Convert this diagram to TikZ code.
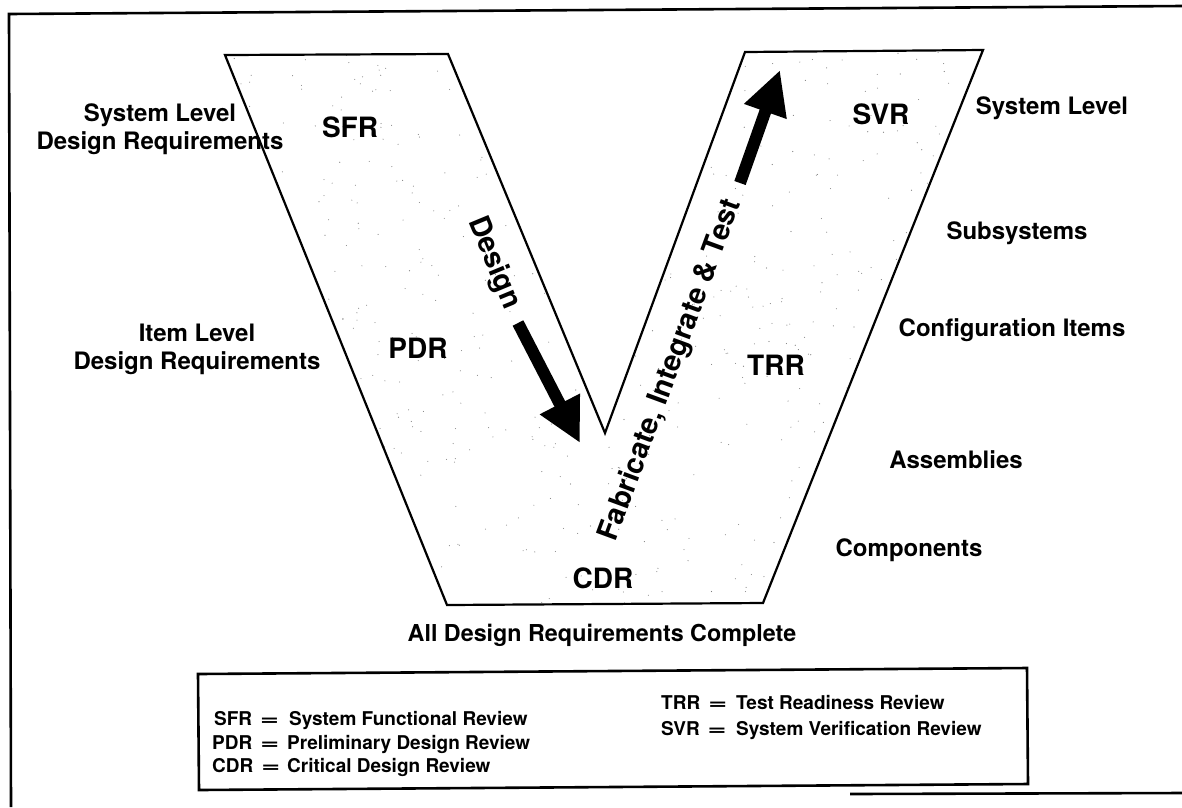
\documentclass[tikz,border=0pt]{standalone}
\usepackage{fontspec}
\setmainfont{TeX Gyre Heros}
\usetikzlibrary{arrows.meta}
\newcommand{\abbr}[1]{\makebox[75pt][l]{#1\hspace{8pt}\scalebox{1.7}[1]{=}}}
\begin{document}
\begin{tikzpicture}[x=1pt,y=-1pt,
  lbl/.style={font=\fontsize{24}{28}\selectfont\bfseries, inner sep=0pt, align=center},
  rev/.style={font=\fontsize{28}{32}\selectfont\bfseries, inner sep=0pt},
  rottext/.style={font=\fontsize{29}{32}\selectfont\bfseries, inner sep=0pt},
  leg/.style={font=\fontsize{19}{22}\selectfont\bfseries, inner sep=0pt, anchor=base west},
  vline/.style={line width=2.2pt, line join=miter},
  frame/.style={line width=2.6pt},
  bigarrow/.style={line width=12pt, -{Triangle[length=44pt,width=42pt]}},
  dot/.style={fill=black!50}
]
\useasboundingbox (0,0) rectangle (1182,807);
% outer frame
\coordinate (f1) at (9,14);
\coordinate (f2) at (1182,6);
\coordinate (f3) at (11,807);
\coordinate (f4) at (850,794);
\coordinate (f5) at (1182,793);
\draw[frame] (f3) -- (f1) -- (f2);
\draw[frame] (f4) -- (f5);
% V shape
\coordinate (A) at (225,55);
\coordinate (B) at (448,54);
\coordinate (C) at (605,433);
\coordinate (D) at (745,52);
\coordinate (E) at (983,50);
\coordinate (F) at (763,603);
\coordinate (G) at (447,605);
\begin{scope}
  \clip (A)--(B)--(C)--(D)--(E)--(F)--(G)--cycle;
  \pgfmathsetseed{11}
  \foreach \i in {1,...,700} {
    \fill[dot] ({225+760*rnd},{50+560*rnd}) circle (0.55pt);
  }
\end{scope}
\draw[vline] (A)--(B)--(C)--(D)--(E)--(F)--(G)--cycle;
% arrows
\coordinate (d1) at (518,323);
\coordinate (d2) at (580,443);
\draw[bigarrow] (d1) -- (d2);
\coordinate (u1) at (740,183);
\coordinate (u2) at (780,70);
\draw[bigarrow] (u1) -- (u2);
% rotated texts
\node[rottext, rotate=-67.5] (design) at (494,263) {Design};
\node[rottext, rotate=69.8] (fit) at (671,370) {Fabricate, Integrate \& Test};
% review labels
\node[rev] (sfr) at (350,127) {SFR};
\node[rev] (pdr) at (418,348) {PDR};
\node[rev] (cdr) at (603,578) {CDR};
\node[rev] (trr) at (776,365) {TRR};
\node[rev] (svr) at (881,114) {SVR};
% left labels
\node[lbl] (sysreq) at (160,129) {System Level\\Design Requirements};
\node[lbl] (itemreq) at (197,349) {Item Level\\Design Requirements};
% right labels
\node[lbl] (syslev) at (1052,108) {System Level};
\node[lbl] (subs) at (1017,233) {Subsystems};
\node[lbl] (ci) at (1012,330) {Configuration Items};
\node[lbl] (asm) at (956,460) {Assemblies};
\node[lbl] (comp) at (909,550) {Components};
% bottom label
\node[lbl, font=\fontsize{23.3}{28}\selectfont\bfseries] (all) at (602,635) {All Design Requirements Complete};
% legend
\coordinate (l1) at (198,674);
\coordinate (l2) at (1027,668);
\coordinate (l3) at (1028,784);
\coordinate (l4) at (199,790);
\draw[frame] (l1) -- (l2) -- (l3) -- (l4) -- cycle;
\node[leg] (lsfr) at (214,725) {\abbr{SFR}System Functional Review};
\node[leg] (lpdr) at (212,749) {\abbr{PDR}Preliminary Design Review};
\node[leg] (lcdr) at (212,772) {\abbr{CDR}Critical Design Review};
\node[leg] (ltrr) at (661,709) {\abbr{TRR}Test Readiness Review};
\node[leg] (lsvr) at (661,735) {\abbr{SVR}System Verification Review};
\end{tikzpicture}
\end{document}
